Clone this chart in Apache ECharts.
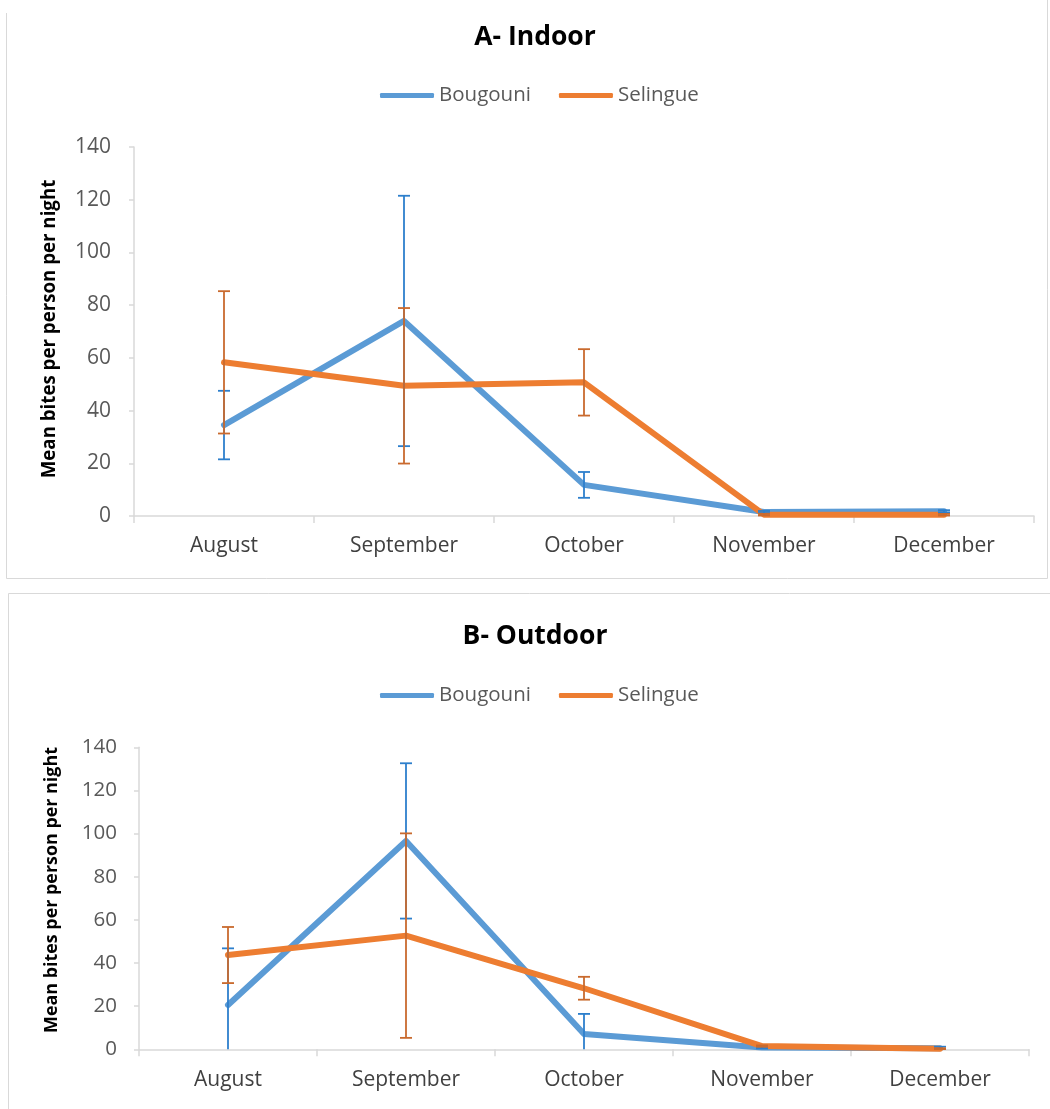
<!DOCTYPE html>
<html>
<head>
<meta charset="utf-8">
<script src="https://cdn.jsdelivr.net/npm/echarts@6/dist/echarts.min.js"></script>
<style>
html,body{margin:0;padding:0;background:#fff;}
#chart{width:1050px;height:1109px;}
</style>
</head>
<body>
<div id="chart"></div>
<script>
// ---- Data ----
var categories = ['August', 'September', 'October', 'November', 'December'];
var yTicks = [0, 20, 40, 60, 80, 100, 120, 140];

var indoorBougouni    = [34.5, 74.0, 11.8, 1.5, 1.8];
var indoorBougouniErr = [13.0, 47.5, 4.9, 0.4, 0.4];
var indoorSelingue    = [58.3, 49.4, 50.7, 0.5, 0.5];
var indoorSelingueErr = [27.0, 29.5, 12.6, 0.3, 0.3];

var outdoorBougouni    = [20.5, 96.6, 7.1, 0.8, 0.5];
var outdoorBougouniErr = [26.3, 36.0, 9.3, 0.4, 0.7];
var outdoorSelingue    = [43.7, 52.7, 28.3, 1.5, 0.3];
var outdoorSelingueErr = [13.0, 47.4, 5.3, 0.3, 0.2];

var seriesNames = ['Bougouni', 'Selingue'];
var panelTitles = ['A- Indoor', 'B- Outdoor'];
var yTitle = 'Mean bites per person per night';

// ---- Styles ----
var FONT = '"Open Sans", "Noto Sans", sans-serif';
var lineColors = ['#5b9bd5', '#ed7d31'];
var errColors = ['#2d7fcc', '#c96a2e'];
var axisColor = '#d9d9d9';

function errData(vals, errs) {
  return vals.map(function (v, i) { return [i, v, errs[i]]; });
}

function errRender(color) {
  return function (params, api) {
    var x = api.value(0), v = api.value(1), e = api.value(2);
    var hi = v + e, lo = v - e;
    var clipped = lo < 0;
    var pHi = api.coord([x, hi]);
    var pLo = api.coord([x, clipped ? 0 : lo]);
    var hw = 6;
    var st = { stroke: color, lineWidth: 1.8 };
    var children = [
      { type: 'line', shape: { x1: pHi[0], y1: pHi[1], x2: pLo[0], y2: pLo[1] }, style: st },
      { type: 'line', shape: { x1: pHi[0] - hw, y1: pHi[1], x2: pHi[0] + hw, y2: pHi[1] }, style: st }
    ];
    if (!clipped) {
      children.push({ type: 'line', shape: { x1: pLo[0] - hw, y1: pLo[1], x2: pLo[0] + hw, y2: pLo[1] }, style: st });
    }
    return { type: 'group', children: children };
  };
}

var grids = [
  { left: 134, top: 147, width: 900, height: 369 },
  { left: 139, top: 747.3, width: 890, height: 302 }
];
var tickFont = [21, 20.5];

var xAxes = [], yAxes = [], series = [];
[0, 1].forEach(function (g) {
  xAxes.push({
    type: 'category', gridIndex: g, data: categories, boundaryGap: true,
    axisLine: { show: true, lineStyle: { color: axisColor, width: 1.5 } },
    axisTick: { show: true, length: 7, lineStyle: { color: axisColor, width: 1.5 } },
    axisLabel: { color: '#404040', fontSize: 21, fontFamily: FONT, margin: 20 },
    splitLine: { show: false }
  });
  yAxes.push({
    type: 'value', gridIndex: g, min: yTicks[0], max: yTicks[yTicks.length - 1], interval: yTicks[1] - yTicks[0],
    axisLine: { show: true, lineStyle: { color: axisColor, width: 1.5 } },
    axisTick: { show: true, length: 5, lineStyle: { color: axisColor, width: 1.5 } },
    axisLabel: { color: '#595959', fontSize: tickFont[g], fontFamily: FONT, margin: g === 0 ? 23 : 22 },
    splitLine: { show: false }
  });
});

var panels = [
  [indoorBougouni, indoorBougouniErr, indoorSelingue, indoorSelingueErr],
  [outdoorBougouni, outdoorBougouniErr, outdoorSelingue, outdoorSelingueErr]
];

panels.forEach(function (p, g) {
  [0, 1].forEach(function (s) {
    series.push({
      name: seriesNames[s], type: 'line', xAxisIndex: g, yAxisIndex: g,
      data: p[s * 2], symbol: 'none', z: 2 + s,
      lineStyle: { color: lineColors[s], width: 6, cap: 'round', join: 'round' },
      itemStyle: { color: lineColors[s] },
      emphasis: { disabled: true }, animation: false
    });
  });
  [0, 1].forEach(function (s) {
    series.push({
      name: seriesNames[s] + ' error', type: 'custom', xAxisIndex: g, yAxisIndex: g,
      data: errData(p[s * 2], p[s * 2 + 1]),
      encode: { x: 0, y: 1 },
      renderItem: errRender(errColors[s]), z: 5, animation: false, silent: true
    });
  });
});

var legends = [85, 685].map(function (top) {
  return {
    data: seriesNames, left: 380, top: top, padding: 0,
    icon: 'roundRect', itemWidth: 54, itemHeight: 5, itemGap: 28,
    textStyle: { color: '#595959', fontSize: 20.5, fontFamily: FONT },
    selectedMode: false
  };
});

var graphics = [
  // panel borders
  { type: 'polyline', shape: { points: [[6.5, 13], [6.5, 578.5], [1047.5, 578.5], [1047.5, 0]] },
    style: { stroke: axisColor, lineWidth: 1, fill: null }, silent: true },
  { type: 'polyline', shape: { points: [[8.5, 1109], [8.5, 593.5], [1050, 593.5]] },
    style: { stroke: axisColor, lineWidth: 1, fill: null }, silent: true },
  // titles
  { type: 'text', x: 535, y: 37.5, style: { text: panelTitles[0], fontSize: 26.5, fontWeight: 'bold', fontFamily: FONT, fill: '#000', align: 'center', verticalAlign: 'middle' } },
  { type: 'text', x: 535, y: 636.5, style: { text: panelTitles[1], fontSize: 26.5, fontWeight: 'bold', fontFamily: FONT, fill: '#000', align: 'center', verticalAlign: 'middle' } },
  // y axis titles
  { type: 'text', x: 50, y: 329, rotation: Math.PI / 2, style: { text: yTitle, fontSize: 18.7, fontWeight: 'bold', fontFamily: FONT, fill: '#000', align: 'center', verticalAlign: 'middle' } },
  { type: 'text', x: 52, y: 890, rotation: Math.PI / 2, style: { text: yTitle, fontSize: 17.9, fontWeight: 'bold', fontFamily: FONT, fill: '#000', align: 'center', verticalAlign: 'middle' } }
];

var chart = echarts.init(document.getElementById('chart'), null, { renderer: 'canvas' });
chart.setOption({
  backgroundColor: '#fff',
  animation: false,
  grid: grids,
  xAxis: xAxes,
  yAxis: yAxes,
  legend: legends,
  series: series,
  graphic: graphics
});
</script>
</body>
</html>
